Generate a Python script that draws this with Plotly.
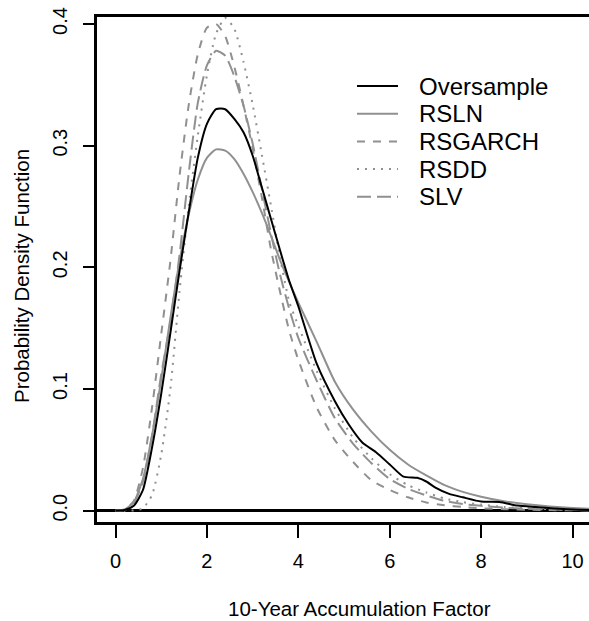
import plotly.graph_objects as go

# ---------------- data ----------------
x_over = [0, 0.2, 0.4, 0.6, 0.8, 1.0, 1.2, 1.4, 1.6, 1.8, 2.0, 2.2, 2.4, 2.6, 2.8,
          3.0, 3.2, 3.4, 3.6, 3.8, 4.0, 4.4, 4.8, 5.1, 5.4, 5.7, 6.0, 6.3, 6.6, 6.8,
          7.0, 7.3, 7.6, 8.0, 8.4, 8.8, 9.2, 9.6, 10.0, 10.4]
oversample = [0, 0.0005, 0.004, 0.017, 0.052, 0.096, 0.146, 0.197, 0.245, 0.290,
              0.318, 0.330, 0.330, 0.322, 0.311, 0.292, 0.266, 0.240, 0.214, 0.189,
              0.168, 0.121, 0.090, 0.071, 0.056, 0.048, 0.038, 0.028, 0.027, 0.024,
              0.019, 0.0138, 0.011, 0.0075, 0.0072, 0.0042, 0.003, 0.0018, 0.001, 0.0006]

x_grid = [0, 0.2, 0.4, 0.6, 0.8, 1.0, 1.2, 1.4, 1.6, 1.8, 2.0, 2.2, 2.4, 2.6, 2.8,
          3.0, 3.2, 3.4, 3.6, 3.8, 4.0, 4.4, 4.8, 5.2, 5.6, 6.0, 6.4, 6.8, 7.2, 7.6,
          8.0, 8.5, 9.0, 9.5, 10.0, 10.4]
rsln = [0, 0.001, 0.007, 0.026, 0.062, 0.108, 0.158, 0.205, 0.243, 0.272, 0.290,
        0.297, 0.296, 0.289, 0.277, 0.262, 0.245, 0.226, 0.206, 0.188, 0.171, 0.139,
        0.106, 0.083, 0.065, 0.050, 0.038, 0.029, 0.021, 0.0155, 0.0115, 0.0078,
        0.0052, 0.0034, 0.0022, 0.0015]
rsgarch = [0, 0.001, 0.008, 0.035, 0.085, 0.145, 0.205, 0.275, 0.333, 0.375, 0.397,
           0.400, 0.390, 0.365, 0.333, 0.298, 0.258, 0.215, 0.180, 0.148, 0.124, 0.085,
           0.058, 0.040, 0.025, 0.017, 0.011, 0.0068, 0.0045, 0.003, 0.002, 0.0012,
           0.0008, 0.0005, 0.0003, 0.0002]
rsdd = [0, 0, 0.0002, 0.002, 0.013, 0.046, 0.100, 0.180, 0.250, 0.308, 0.358, 0.392,
        0.405, 0.396, 0.369, 0.334, 0.293, 0.251, 0.208, 0.172, 0.152, 0.115, 0.084,
        0.060, 0.043, 0.030, 0.021, 0.015, 0.010, 0.007, 0.005, 0.003, 0.002, 0.0012,
        0.0008, 0.0005]
slv = [0, 0.0005, 0.006, 0.024, 0.062, 0.112, 0.155, 0.210, 0.277, 0.335, 0.366,
       0.378, 0.374, 0.357, 0.333, 0.302, 0.265, 0.228, 0.194, 0.166, 0.142, 0.107,
       0.076, 0.055, 0.039, 0.026, 0.018, 0.0125, 0.008, 0.0055, 0.004, 0.0025,
       0.0016, 0.001, 0.0006, 0.0004]

series_names = ["Oversample", "RSLN", "RSGARCH", "RSDD", "SLV"]
x_ticks = [0, 2, 4, 6, 8, 10]
y_ticks = [0.0, 0.1, 0.2, 0.3, 0.4]
y_tick_labels = ["0.0", "0.1", "0.2", "0.3", "0.4"]

# ---------------- styling ----------------
GRAY = "#909090"
FONT = "Liberation Sans, Arial, Helvetica, sans-serif"
styles = {
    "Oversample": dict(color="black", width=2, dash="solid"),
    "RSLN": dict(color=GRAY, width=2, dash="solid"),
    "RSGARCH": dict(color=GRAY, width=2, dash="8px,8px"),
    "RSDD": dict(color=GRAY, width=2, dash="2px,6px"),
    "SLV": dict(color=GRAY, width=2, dash="14px,6px"),
}

fig = go.Figure()
data_map = {
    "RSLN": (x_grid, rsln),
    "RSGARCH": (x_grid, rsgarch),
    "RSDD": (x_grid, rsdd),
    "SLV": (x_grid, slv),
    "Oversample": (x_over, oversample),
}
for name in ["RSLN", "RSGARCH", "RSDD", "SLV", "Oversample"]:
    xs, ys = data_map[name]
    fig.add_trace(go.Scatter(x=xs, y=ys, mode="lines", name=name,
                             line=dict(shape="spline", smoothing=0.6, **styles[name]),
                             showlegend=False, hoverinfo="skip"))

W, H = 589, 621
L, T, B, R = 97, 17, 99, 0
pw, ph = W - L - R, H - T - B

fig.update_layout(
    width=W, height=H,
    margin=dict(l=L, r=R, t=T, b=B, pad=0),
    paper_bgcolor="white", plot_bgcolor="white",
    font=dict(family=FONT, size=20, color="black"),
    showlegend=False,
)
fig.update_xaxes(
    range=[-0.405, 10.36], tickvals=x_ticks, ticks="outside", ticklen=13,
    tickwidth=2, tickcolor="black", showgrid=False, zeroline=False,
    showline=True, linecolor="black", linewidth=2.5, mirror=True,
    tickfont=dict(size=20), ticklabelstandoff=6,
)
fig.update_yaxes(
    range=[-0.0093, 0.4058], tickvals=y_ticks, ticktext=y_tick_labels,
    ticks="outside", ticklen=11, tickwidth=2, tickcolor="black",
    showgrid=False, zeroline=True, zerolinecolor="black", zerolinewidth=3,
    showline=True, linecolor="black", linewidth=2.5, mirror=False,
    tickangle=-90, tickfont=dict(size=20), ticklabelstandoff=8,
)

# axis titles
fig.add_annotation(text="10-Year Accumulation Factor", xref="paper", yref="paper",
                   x=(359 - L) / pw, y=-(608 - (T + ph)) / ph, showarrow=False,
                   font=dict(size=20.5), xanchor="center", yanchor="middle")
fig.add_annotation(text="Probability Density Function", xref="paper", yref="paper",
                   x=-(L - 21) / pw, y=1 - (276 - T) / ph, showarrow=False,
                   textangle=-90, font=dict(size=20.5), xanchor="center", yanchor="middle")

# manual legend (R style)
leg_y0 = 86
leg_dy = 27.7
for i, name in enumerate(series_names):
    yp = leg_y0 + i * leg_dy
    yy = 1 - (yp - T) / ph
    st = styles[name]
    fig.add_shape(type="line", xref="paper", yref="paper",
                  x0=(357 - L) / pw, x1=(398 - L) / pw, y0=yy, y1=yy,
                  line=dict(color=st["color"], width=st["width"], dash=st["dash"]))
    fig.add_annotation(text=name, xref="paper", yref="paper",
                       x=(417 - L) / pw, y=yy, showarrow=False,
                       xanchor="left", yanchor="middle", font=dict(size=24))

fig.write_html("out.html", config={"displayModeBar": False},
               post_script="document.body.style.margin='0px';document.body.style.overflow='hidden';")
